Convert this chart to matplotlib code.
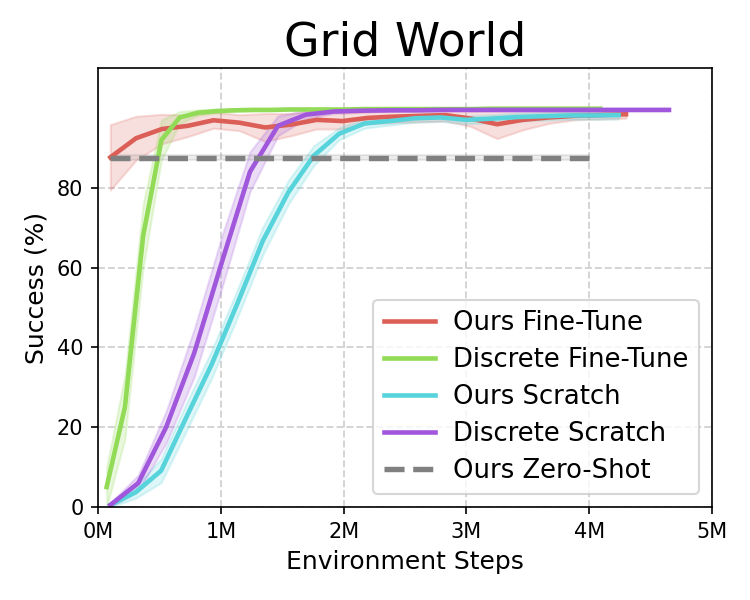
import numpy as np
import matplotlib
matplotlib.use("Agg")
import matplotlib.pyplot as plt
from matplotlib.ticker import FuncFormatter

# colours (seaborn hls-7 style)
COLOR_OURS_FT = "#db5f57"
COLOR_DISC_FT = "#91db57"
COLOR_OURS_SCRATCH = "#57d3db"
COLOR_DISC_SCRATCH = "#a157db"
COLOR_ZERO_SHOT = "#808080"

# x positions in millions of environment steps
steps_ours_ft = np.linspace(0.1, 4.3, 21)
steps_disc_ft = np.linspace(0.07, 4.09, 28)
steps_ours_scratch = np.linspace(0.1, 4.24, 21)
steps_disc_scratch = np.linspace(0.1, 4.65, 21)
steps_zero_shot = [0.1, 4.0]

# success (%) means and std bands
ours_ft_mean = [87.6, 92.4, 94.7, 95.5, 96.9, 96.3, 95.1, 95.8, 97.0, 96.7, 97.5,
                97.8, 98.0, 98.2, 97.3, 95.9, 97.0, 97.6, 98.0, 98.2, 98.4]
ours_ft_std = [8.2, 5.5, 3.7, 2.7, 2.0, 2.0, 3.5, 2.8, 2.3, 2.0, 1.5,
               1.5, 1.5, 1.5, 2.0, 3.6, 2.5, 1.5, 1.0, 1.0, 1.0]

disc_ft_mean = [5.0, 25.0, 68.0, 92.0, 97.6, 98.8, 99.2, 99.4, 99.5, 99.5,
                99.6, 99.6, 99.6, 99.6, 99.7, 99.7, 99.7, 99.7, 99.7, 99.7,
                99.7, 99.8, 99.8, 99.8, 99.8, 99.8, 99.8, 99.8]
disc_ft_std = [5.0, 8.0, 8.0, 5.0, 1.5, 0.7, 0.5, 0.3, 0.3, 0.3,
               0.2, 0.2, 0.2, 0.2, 0.2, 0.2, 0.2, 0.2, 0.2, 0.2,
               0.2, 0.2, 0.2, 0.2, 0.2, 0.2, 0.2, 0.2]

ours_scratch_mean = [0.5, 3.7, 9.1, 22.6, 35.9, 51.0, 66.7, 78.8, 88.0, 93.5, 96.1,
                     96.7, 97.4, 97.6, 97.0, 97.3, 97.7, 97.9, 98.1, 98.1, 98.2]
ours_scratch_std = [0.5, 1.5, 3.0, 3.5, 3.5, 3.5, 3.5, 3.0, 2.5, 1.5, 1.2,
                    1.0, 1.0, 1.0, 1.0, 1.0, 1.0, 1.0, 1.0, 1.0, 1.0]

disc_scratch_mean = [0.5, 6.0, 20.0, 38.5, 61.5, 84.0, 95.5, 98.3, 99.1, 99.3, 99.4,
                     99.4, 99.5, 99.5, 99.5, 99.5, 99.5, 99.5, 99.5, 99.5, 99.5]
disc_scratch_std = [0.5, 2.0, 4.0, 6.0, 6.5, 5.0, 2.5, 1.0, 0.5, 0.3, 0.3,
                    0.3, 0.3, 0.3, 0.3, 0.3, 0.3, 0.3, 0.3, 0.3, 0.3]

zero_shot_value = 87.5


def plot_curve(ax, x, mean, std, color, label, **kwargs):
    mean = np.array(mean)
    std = np.array(std)
    ax.fill_between(x, mean - std, mean + std, color=color, alpha=0.2, linewidth=1)
    ax.plot(x, mean, color=color, label=label, linewidth=2.2, **kwargs)


def main():
    fig, ax = plt.subplots(figsize=(5, 4), dpi=150)
    fig.subplots_adjust(left=0.1307, right=0.9493, top=0.8867, bottom=0.155)

    plot_curve(ax, steps_ours_ft, ours_ft_mean, ours_ft_std, COLOR_OURS_FT, "Ours Fine-Tune")
    plot_curve(ax, steps_disc_ft, disc_ft_mean, disc_ft_std, COLOR_DISC_FT, "Discrete Fine-Tune")
    plot_curve(ax, steps_ours_scratch, ours_scratch_mean, ours_scratch_std,
               COLOR_OURS_SCRATCH, "Ours Scratch")
    plot_curve(ax, steps_disc_scratch, disc_scratch_mean, disc_scratch_std,
               COLOR_DISC_SCRATCH, "Discrete Scratch")

    zs = [zero_shot_value] * len(steps_zero_shot)
    ax.fill_between(steps_zero_shot, np.array(zs) - 0.6, np.array(zs) + 0.6,
                    color=COLOR_ZERO_SHOT, alpha=0.15, linewidth=1)
    ax.plot(steps_zero_shot, zs, color=COLOR_ZERO_SHOT, linestyle="--",
            linewidth=2.6, label="Ours Zero-Shot")

    ax.set_xlim(0, 5)
    ax.set_ylim(0, 110)
    ax.set_xticks(range(0, 6))
    ax.set_yticks(range(0, 100, 20))
    ax.xaxis.set_major_formatter(FuncFormatter(lambda v, p: "%dM" % v))
    ax.tick_params(labelsize=10)
    ax.grid(True, linestyle="--", color="#d3d3d3", linewidth=0.9)
    ax.set_axisbelow(True)

    ax.set_title("Grid World", fontsize=22)
    ax.set_xlabel("Environment Steps", fontsize=12)
    ax.set_ylabel("Success (%)", fontsize=12)
    ax.legend(loc="lower right", fontsize=12.4, handletextpad=0.7,
              labelspacing=0.42)

    fig.savefig("out.png", dpi=150)


if __name__ == "__main__":
    main()
